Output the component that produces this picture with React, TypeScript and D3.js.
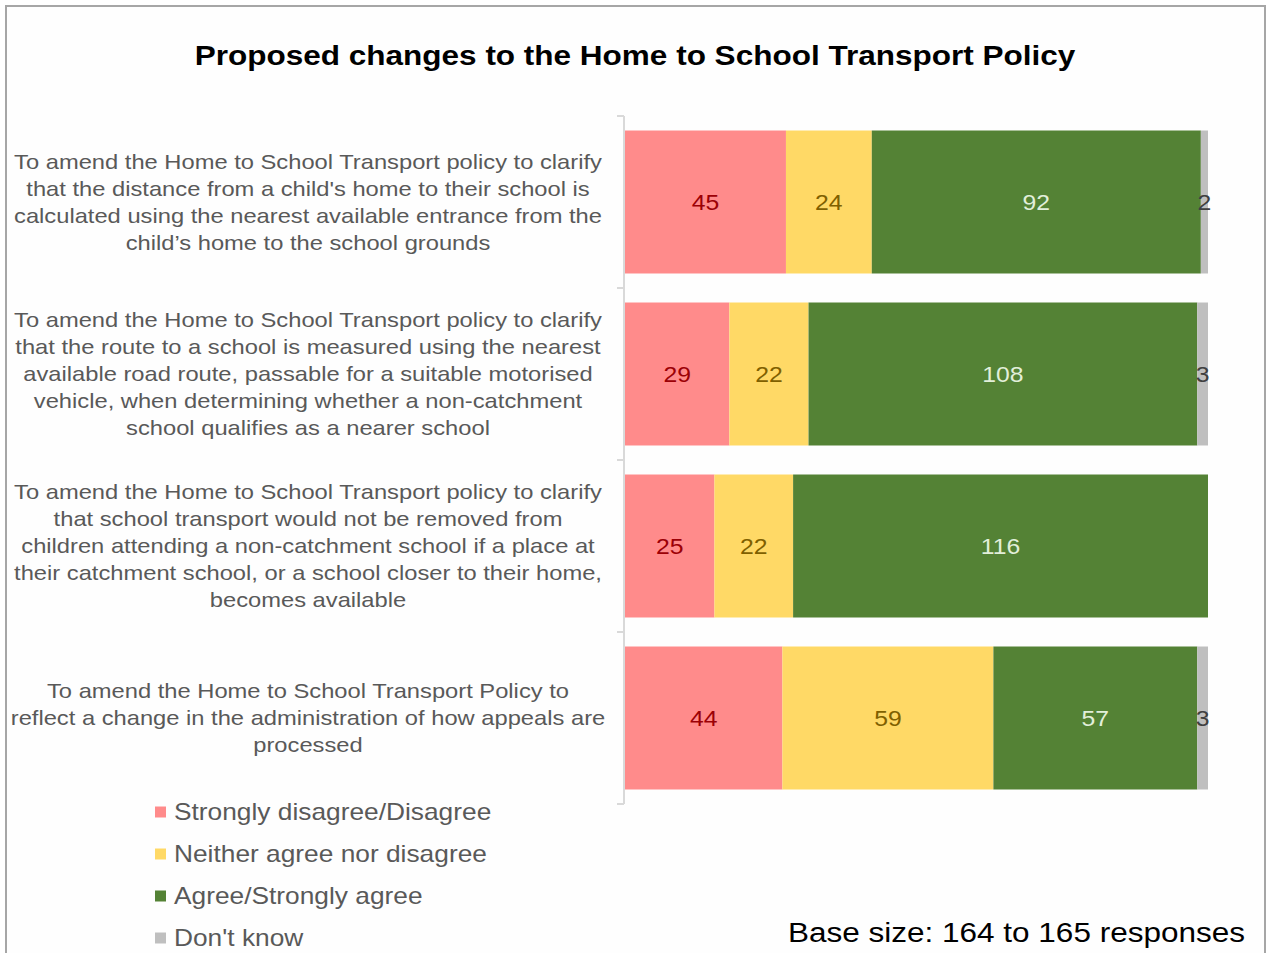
import React from "react";
import * as d3 from "d3";

const categories = [
  [
    "To amend the Home to School Transport policy to clarify",
    "that the distance from a child's home to their school is",
    "calculated using the nearest available entrance from the",
    "child\u2019s home to the school grounds",
  ],
  [
    "To amend the Home to School Transport policy to clarify",
    "that the route to a school is measured using the nearest",
    "available road route, passable for a suitable motorised",
    "vehicle, when determining whether a non-catchment",
    "school qualifies as a nearer school",
  ],
  [
    "To amend the Home to School Transport policy to clarify",
    "that school transport would not be removed from",
    "children attending a non-catchment school if a place at",
    "their catchment school, or a school closer to their home,",
    "becomes available",
  ],
  [
    "To amend the Home to School Transport Policy to",
    "reflect a change in the administration of how appeals are",
    "processed",
  ],
];

const seriesNames = [
  "Strongly disagree/Disagree",
  "Neither agree nor disagree",
  "Agree/Strongly agree",
  "Don't know",
];
const disagree = [45, 29, 25, 44];
const neither = [24, 22, 22, 59];
const agree = [92, 108, 116, 57];
const dontKnow = [2, 3, 0, 3];

const colors = ["#ff8b8b", "#ffd966", "#548235", "#bfbfbf"];
const labelColors = ["#9c0006", "#7f6000", "#e2efda", "#404040"];

const W = 1267;
const H = 953;

const sx = (cx: number, s: number) => `translate(${cx},0) scale(${s},1) translate(${-cx},0)`;

export default function App() {
  const series = [disagree, neither, agree, dontKnow];
  const idx = categories.map((_, i) => i);
  const x = d3.scaleLinear().domain([0, 1]).range([625, 1208]);
  const y = d3
    .scaleBand<number>()
    .domain(idx)
    .range([116, 804])
    .paddingInner(0.1686)
    .paddingOuter(0.0843);
  const step = y.step();

  const rows = idx.map((i) => {
    const vals = series.map((s) => s[i]);
    const total = d3.sum(vals);
    let acc = 0;
    return vals.map((v, k) => {
      const x0 = acc / total;
      acc += v;
      return { k, v, x0, x1: acc / total };
    });
  });

  const font = "Arial, 'Liberation Sans', sans-serif";
  const ticks = d3.range(0, categories.length + 1).map((i) => 116 + i * step);

  return (
    <svg
      width={W}
      height={H}
      style={{ position: "absolute", left: 0, top: 0, display: "block" }}
      fontFamily={font}
    >
      <rect x={0} y={0} width={W} height={H} fill="#ffffff" />
      <rect x={6} y={6} width={1259} height={H + 20} fill="#fefefe" stroke="#a6a6a6" strokeWidth={2} />
      <text
        x={635}
        y={65}
        textAnchor="middle"
        fontSize={27.5}
        fontWeight="bold"
        fill="#000"
        transform={sx(635, 1.146)}
      >
        Proposed changes to the Home to School Transport Policy
      </text>

      {rows.map((segs, i) =>
        segs.map((s) => {
          if (s.v <= 0) return null;
          const cx = (x(s.x0) + x(s.x1)) / 2;
          return (
            <g key={`${i}-${s.k}`}>
              <rect
                x={x(s.x0)}
                y={y(i)}
                width={x(s.x1) - x(s.x0)}
                height={y.bandwidth()}
                fill={colors[s.k]}
              />
              <text
                x={cx}
                y={(y(i) as number) + y.bandwidth() / 2}
                dy="0.35em"
                textAnchor="middle"
                fontSize={22.5}
                fill={labelColors[s.k]}
                transform={sx(cx, 1.1)}
              >
                {s.v}
              </text>
            </g>
          );
        })
      )}

      <line x1={624} x2={624} y1={116} y2={804} stroke="#d9d9d9" strokeWidth={2} />
      {ticks.map((t, i) => (
        <line key={i} x1={617} x2={624} y1={t} y2={t} stroke="#d9d9d9" strokeWidth={2} />
      ))}

      {categories.map((lines, i) => {
        const cy = (y(i) as number) + y.bandwidth() / 2;
        const lh = 27;
        const start = cy - ((lines.length - 1) * lh) / 2;
        return (
          <text key={i} textAnchor="middle" fontSize={21} fill="#595959" transform={sx(308, 1.13)}>
            {lines.map((l, j) => (
              <tspan key={j} x={308} y={start + j * lh} dy="0.35em">
                {l}
              </tspan>
            ))}
          </text>
        );
      })}

      {seriesNames.map((n, k) => (
        <g key={n} transform={`translate(155, ${812 + k * 42})`}>
          <rect x={0} y={-5.5} width={11} height={11} fill={colors[k]} />
          <text x={19} y={0} dy="0.35em" fontSize={23} fill="#595959" transform={sx(19, 1.144)}>
            {n}
          </text>
        </g>
      ))}

      <text
        x={1245}
        y={932}
        dy="0.35em"
        textAnchor="end"
        fontSize={27.5}
        fill="#000"
        transform={sx(1245, 1.146)}
      >
        Base size: 164 to 165 responses
      </text>
    </svg>
  );
}
